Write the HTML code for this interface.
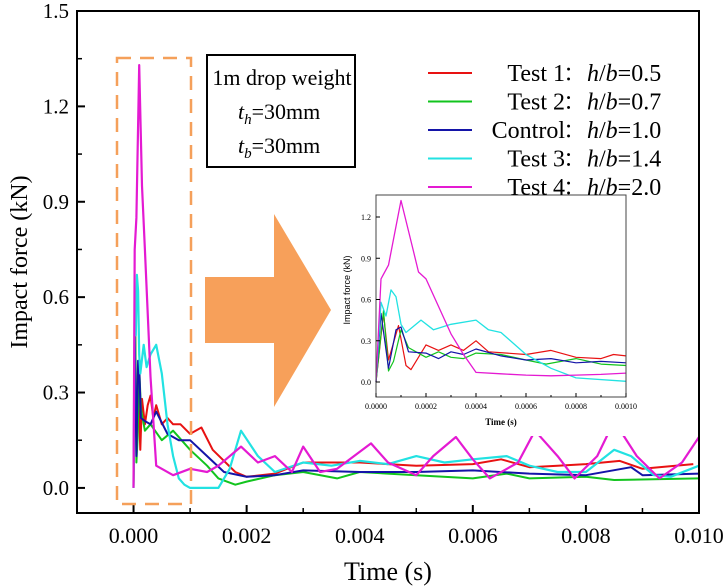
<!DOCTYPE html>
<html><head><meta charset="utf-8"><style>
html,body{margin:0;padding:0;background:#fff;}
svg{display:block;font-family:"Liberation Serif",serif;}
</style></head><body>
<svg id="c" width="726" height="586" viewBox="0 0 726 586"></svg>
<script>
// Main chart data
const mainTicksX=[0,0.002,0.004,0.006,0.008,0.010];
const mainTickLabelsX=["0.000","0.002","0.004","0.006","0.008","0.010"];
const mainTicksY=[0,0.3,0.6,0.9,1.2,1.5];
const mainTickLabelsY=["0.0","0.3","0.6","0.9","1.2","1.5"];
const redT=[0,0.00003,0.00005,0.00009,0.00012,0.00015,0.0002,0.00025,0.0003,0.00035,0.0004,0.0005,0.0006,0.0007,0.00083,0.001,0.0012,0.0014,0.0018,0.002,0.0025,0.003,0.004,0.005,0.006,0.0065,0.007,0.0075,0.008,0.0086,0.009,0.0099];
const redV=[0,0.5,0.16,0.28,0.12,0.28,0.2,0.26,0.29,0.22,0.26,0.2,0.22,0.2,0.2,0.17,0.19,0.12,0.05,0.035,0.045,0.08,0.08,0.07,0.075,0.09,0.065,0.07,0.075,0.085,0.06,0.075];
const greenT=[0,0.00003,0.00005,0.00007,0.0001,0.00013,0.0002,0.0003,0.0005,0.0007,0.001,0.0013,0.0015,0.0018,0.002,0.0025,0.003,0.0036,0.004,0.005,0.006,0.0066,0.007,0.008,0.0085,0.01];
const greenV=[0,0.52,0.08,0.15,0.38,0.25,0.18,0.2,0.15,0.18,0.12,0.07,0.03,0.01,0.02,0.04,0.05,0.03,0.05,0.04,0.03,0.045,0.03,0.035,0.025,0.03];
const blueT=[0,0.00002,0.00005,0.00008,0.0001,0.00013,0.0002,0.0003,0.0004,0.0006,0.0008,0.001,0.0013,0.0016,0.002,0.0025,0.003,0.004,0.005,0.006,0.007,0.008,0.0088,0.009,0.01];
const blueV=[0,0.5,0.1,0.4,0.38,0.22,0.21,0.2,0.24,0.17,0.15,0.15,0.1,0.05,0.035,0.04,0.055,0.05,0.05,0.055,0.045,0.04,0.065,0.04,0.045];
const cyanT=[0,0.00002,0.00004,0.00006,0.00008,0.0001,0.00012,0.00018,0.00023,0.0003,0.0004,0.0005,0.0006,0.0007,0.0008,0.0009,0.001,0.0015,0.0017,0.0019,0.0022,0.0025,0.003,0.0035,0.004,0.0045,0.005,0.0055,0.006,0.0066,0.007,0.0075,0.008,0.0085,0.0088,0.0092,0.0095,0.01];
const cyanV=[0,0.58,0.48,0.67,0.62,0.42,0.36,0.45,0.38,0.42,0.45,0.36,0.2,0.1,0.03,0.01,0.0,0.0,0.06,0.18,0.1,0.05,0.08,0.07,0.085,0.075,0.1,0.08,0.09,0.1,0.07,0.05,0.05,0.12,0.1,0.04,0.035,0.07];
const magT=[0,0.00002,0.00005,0.0001,0.00015,0.0002,0.0003,0.0004,0.0005,0.0007,0.001,0.0013,0.0015,0.0019,0.0022,0.0025,0.0028,0.003,0.0033,0.0036,0.0042,0.0045,0.005,0.0053,0.0057,0.006,0.0063,0.0068,0.0071,0.0075,0.0078,0.0082,0.0085,0.0089,0.0093,0.0097,0.01];
const magV=[0,0.75,0.85,1.33,0.95,0.75,0.35,0.07,0.06,0.04,0.06,0.05,0.07,0.13,0.08,0.1,0.05,0.13,0.05,0.06,0.14,0.08,0.04,0.1,0.16,0.09,0.03,0.08,0.18,0.1,0.03,0.1,0.21,0.1,0.03,0.08,0.16];
// Inset data (0 - 0.001 s)
const insetTicksX=[0,0.0002,0.0004,0.0006,0.0008,0.001];
const insetTickLabelsX=["0.0000","0.0002","0.0004","0.0006","0.0008","0.0010"];
const insetTicksY=[0,0.3,0.6,0.9,1.2];
const insetTickLabelsY=["0.0","0.3","0.6","0.9","1.2"];
const inMagT=[0,0.00002,0.00005,0.0001,0.00015,0.00017,0.0002,0.00025,0.0003,0.00035,0.0004,0.0005,0.0006,0.0007,0.0008,0.0009,0.001];
const inMagV=[0,0.75,0.85,1.32,0.95,0.8,0.75,0.55,0.35,0.2,0.07,0.06,0.05,0.045,0.05,0.055,0.065];
const inCyanT=[0,0.00002,0.00004,0.00006,0.00008,0.0001,0.00012,0.00018,0.00023,0.0003,0.0004,0.00045,0.0005,0.0006,0.0007,0.0008,0.001];
const inCyanV=[0,0.58,0.48,0.67,0.62,0.42,0.36,0.45,0.38,0.42,0.45,0.38,0.36,0.2,0.1,0.03,0.005];
const inRedT=[0,0.00003,0.00005,0.00009,0.00012,0.00014,0.0002,0.00025,0.0003,0.00035,0.0004,0.00045,0.0006,0.0007,0.0008,0.0009,0.00095,0.001];
const inRedV=[0,0.5,0.16,0.41,0.12,0.09,0.27,0.23,0.27,0.23,0.3,0.22,0.2,0.23,0.18,0.17,0.2,0.19];
const inGreenT=[0,0.00003,0.00005,0.00007,0.0001,0.00013,0.0002,0.00025,0.0003,0.00035,0.0004,0.0005,0.0006,0.00068,0.0008,0.0009,0.001];
const inGreenV=[0,0.52,0.08,0.15,0.38,0.25,0.18,0.22,0.18,0.17,0.21,0.2,0.16,0.13,0.17,0.13,0.12];
const inBlueT=[0,0.00002,0.00005,0.00008,0.0001,0.00013,0.0002,0.00025,0.0003,0.00035,0.0004,0.0005,0.0006,0.0007,0.0008,0.0009,0.001];
const inBlueV=[0,0.5,0.1,0.38,0.4,0.22,0.21,0.17,0.22,0.2,0.24,0.19,0.16,0.17,0.14,0.15,0.14];

const NS="http://www.w3.org/2000/svg";
const svg=document.getElementById('c');
function el(tag,attrs,parent,text){const e=document.createElementNS(NS,tag);for(const k in attrs)e.setAttribute(k,attrs[k]);if(text!==undefined)e.textContent=text;(parent||svg).appendChild(e);return e;}
const COL={red:"#e81212",green:"#12c41e",blue:"#1414a8",cyan:"#22e2e2",mag:"#e41ad2"};

// main axes
const M={l:77,r:699,t:11,b:513,x0:-0.001,x1:0.010,y0:-0.0789,y1:1.5};
const mx=v=>M.l+(v-M.x0)/(M.x1-M.x0)*(M.r-M.l);
const my=v=>M.b-(v-M.y0)/(M.y1-M.y0)*(M.b-M.t);
function line(T,V,fx,fy,color,name,w){
  let d="";for(let i=0;i<T.length;i++)d+=(i?"L":"M")+fx(T[i]).toFixed(1)+","+fy(V[i]).toFixed(1);
  const p=el('path',{d:d,fill:"none",stroke:color,"stroke-width":w,"stroke-linejoin":"round"});
  
  
}
line(redT,redV,mx,my,COL.red,'series-test1',2);
line(greenT,greenV,mx,my,COL.green,'series-test2',2);
line(blueT,blueV,mx,my,COL.blue,'series-control',2);
line(cyanT,cyanV,mx,my,COL.cyan,'series-test3',2.2);
line(magT,magV,mx,my,COL.mag,'series-test4',2.2);

// frame
const fr=el('rect',{x:M.l,y:M.t,width:M.r-M.l,height:M.b-M.t,fill:"none",stroke:"#000","stroke-width":2});

mainTicksX.forEach((v,i)=>{
  el('line',{x1:mx(v),x2:mx(v),y1:M.b,y2:M.b-8,stroke:"#000","stroke-width":2});
  el('line',{x1:mx(v+0.001),x2:mx(v+0.001),y1:M.b,y2:M.b-5,stroke:"#000","stroke-width":1.5});
  const t=el('text',{x:mx(v),y:M.b+30,"text-anchor":"middle","font-size":22},svg,mainTickLabelsX[i]);
  
});
el('line',{x1:mx(-0.001),x2:mx(-0.001),y1:M.b,y2:M.b-5,stroke:"#000","stroke-width":1.5});
mainTicksY.forEach((v,i)=>{
  el('line',{x1:M.l,x2:M.l+8,y1:my(v),y2:my(v),stroke:"#000","stroke-width":2});
  if(v<1.5)el('line',{x1:M.l,x2:M.l+5,y1:my(v+0.15),y2:my(v+0.15),stroke:"#000","stroke-width":1.5});
  const t=el('text',{x:M.l-8,y:my(v)+7,"text-anchor":"end","font-size":21},svg,mainTickLabelsY[i]);
  
});
let t=el('text',{x:mx(0.0045),y:580,"text-anchor":"middle","font-size":26},svg,"Time (s)");

t=el('text',{x:0,y:0,"text-anchor":"middle","font-size":24,transform:"translate(27,262) rotate(-90)"},svg,"Impact force (kN)");


// dashed zoom box
const db=el('rect',{x:117,y:58,width:74,height:446,fill:"none",stroke:"#f5a05a","stroke-width":2.5,"stroke-dasharray":"14,9"});

// arrow
const ar=el('polygon',{points:"205,277 274,277 274,214 331,310 274,407 274,343 205,343",fill:"#f7a05a"});


// annotation box
const ab=el('rect',{x:207,y:55,width:148,height:112,fill:"#fff",stroke:"#000","stroke-width":2});

t=el('text',{x:282,y:85,"text-anchor":"middle","font-size":22},svg,"1m drop weight");

t=el('text',{x:238,y:119,"font-size":22},svg);t.innerHTML='<tspan font-style="italic">t</tspan><tspan font-style="italic" font-size="15" dy="5">h</tspan><tspan dy="-5">=30mm</tspan>';

t=el('text',{x:238,y:153,"font-size":22},svg);t.innerHTML='<tspan font-style="italic">t</tspan><tspan font-style="italic" font-size="15" dy="5">b</tspan><tspan dy="-5">=30mm</tspan>';


// inset
const I={l:376,r:626,t:195,b:397,x0:0,x1:0.001,y0:-0.109,y1:1.36};
const ix=v=>I.l+(v-I.x0)/(I.x1-I.x0)*(I.r-I.l);
const iy=v=>I.b-(v-I.y0)/(I.y1-I.y0)*(I.b-I.t);
const ibg=el('rect',{x:342,y:193,width:300,height:243,fill:"#fff"});

line(inRedT,inRedV,ix,iy,COL.red,'inset-series-test1',1.2);
line(inGreenT,inGreenV,ix,iy,COL.green,'inset-series-test2',1.2);
line(inBlueT,inBlueV,ix,iy,COL.blue,'inset-series-control',1.2);
line(inCyanT,inCyanV,ix,iy,COL.cyan,'inset-series-test3',1.3);
line(inMagT,inMagV,ix,iy,COL.mag,'inset-series-test4',1.3);
const ifr=el('rect',{x:I.l,y:I.t,width:I.r-I.l,height:I.b-I.t,fill:"none",stroke:"#444","stroke-width":1});

insetTicksX.forEach((v,i)=>{
  el('line',{x1:ix(v),x2:ix(v),y1:I.b,y2:I.b-4,stroke:"#000","stroke-width":1});
  if(v<0.001)el('line',{x1:ix(v+0.0001),x2:ix(v+0.0001),y1:I.b,y2:I.b-2,stroke:"#000","stroke-width":1});
  const tt=el('text',{x:ix(v),y:I.b+12,"text-anchor":"middle","font-size":8},svg,insetTickLabelsX[i]);
  
});
insetTicksY.forEach((v,i)=>{
  el('line',{x1:I.l,x2:I.l+4,y1:iy(v),y2:iy(v),stroke:"#000","stroke-width":1});
  const tt=el('text',{x:I.l-5,y:iy(v)+3,"text-anchor":"end","font-size":8},svg,insetTickLabelsY[i]);
  
});
t=el('text',{x:ix(0.0005),y:425,"text-anchor":"middle","font-size":9,"font-weight":"bold"},svg,"Time (s)");

t=el('text',{x:0,y:0,"text-anchor":"middle","font-size":9,"font-family":"'Liberation Sans',sans-serif",transform:"translate(350,290) rotate(-90)"},svg,"Impact force (kN)");


// legend (drawn last so the inset does not cover it)
const legNames=["Test 1","Test 2","Control","Test 3","Test 4"];
const legVals=["0.5","0.7","1.0","1.4","2.0"];
const legCols=[COL.red,COL.green,COL.blue,COL.cyan,COL.mag];
legNames.forEach((n,i)=>{
  const y=73+i*28.5;
  const g=el('g',{});
  
  el('line',{x1:428,x2:472,y1:y,y2:y,stroke:legCols[i],"stroke-width":2},g);
  el('text',{x:565,y:y+8,"text-anchor":"end","font-size":24,"font-family":"'Liberation Serif',serif"},g,n);
  const tx=el('text',{x:563,y:y+8,"font-size":24,"font-family":"'Liberation Serif','Noto Serif CJK SC',serif"},g);
  tx.innerHTML='：<tspan font-style="italic">h</tspan>/<tspan font-style="italic">b</tspan>='+legVals[i];
});
</script>
</body></html>
